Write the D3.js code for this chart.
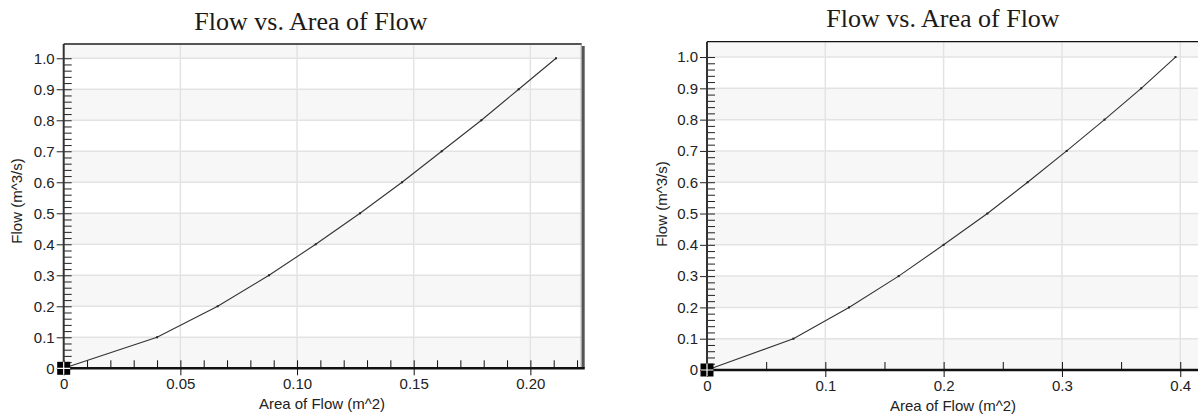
<!DOCTYPE html>
<meta charset="utf-8">
<style>
body { margin: 0; background: #fff; }
svg { display: block; }
.tick text { font-family: "Liberation Sans", Arial, sans-serif; font-size: 15px; fill: #222; }
.title { font-family: "Liberation Serif", "Times New Roman", serif; font-size: 26px; fill: #1c1a18; }
.axlabel { font-family: "Liberation Sans", Arial, sans-serif; font-size: 15px; fill: #222; }
.grid line { stroke: #e3e3e3; stroke-width: 1.5px; }
.curve { fill: none; stroke: #333; stroke-width: 1.1px; }
</style>
<svg width="1198" height="414"></svg>
<script src="https://cdnjs.cloudflare.com/ajax/libs/d3/7.8.5/d3.min.js"></script>
<script>

// flow values (m^3/s) at each marked point
var flow = [0, 0.1, 0.2, 0.3, 0.4, 0.5, 0.6, 0.7, 0.8, 0.9, 1.0];
// area of flow (m^2), first chart
var areaLeft = [0, 0.040, 0.066, 0.088, 0.108, 0.127, 0.145, 0.162, 0.179, 0.195, 0.211];
// area of flow (m^2), second chart
var areaRight = [0, 0.073, 0.120, 0.162, 0.200, 0.237, 0.271, 0.304, 0.336, 0.367, 0.396];

var yTicks = [0, 0.1, 0.2, 0.3, 0.4, 0.5, 0.6, 0.7, 0.8, 0.9, 1.0];
var xTicksLeft = [0, 0.05, 0.10, 0.15, 0.20];
var xTicksRight = [0, 0.1, 0.2, 0.3, 0.4];

var svg = d3.select("svg");

function drawChart(c) {
  var x = d3.scaleLinear().domain([0, c.xMax]).range([c.left, c.right]);
  var y = d3.scaleLinear().domain([0, c.yMax]).range([c.bottom, c.top]);
  var g = svg.append("g");

  // alternating bands
  var edges = yTicks.concat([c.yMax]);
  g.selectAll("rect.band")
    .data(d3.range(0, edges.length - 1).filter(function(i) { return i % 2 == 0; }))
    .enter().append("rect")
    .attr("class", "band")
    .attr("x", c.left)
    .attr("width", c.right - c.left)
    .attr("y", function(i) { return y(edges[i + 1]); })
    .attr("height", function(i) { return y(edges[i]) - y(edges[i + 1]); })
    .attr("fill", "#f7f7f7");

  // grid
  var grid = g.append("g").attr("class", "grid");
  grid.selectAll("line.h").data(yTicks.slice(1)).enter().append("line")
    .attr("x1", c.left).attr("x2", c.right)
    .attr("y1", function(d) { return y(d); }).attr("y2", function(d) { return y(d); });
  grid.selectAll("line.v").data(c.xTicks.slice(1)).enter().append("line")
    .attr("y1", c.top).attr("y2", c.bottom)
    .attr("x1", function(d) { return x(d); }).attr("x2", function(d) { return x(d); });

  // top / right border
  g.append("line")
    .attr("x1", c.left).attr("x2", c.right)
    .attr("y1", c.top).attr("y2", c.top)
    .attr("stroke", c.topColor).attr("stroke-width", c.topWidth);
  if (c.rightBorder) {
    g.append("line")
      .attr("x1", c.right + 1.5).attr("x2", c.right + 1.5)
      .attr("y1", c.top + 2).attr("y2", c.bottom)
      .attr("stroke", "#555").attr("stroke-width", 3);
    g.append("line")
      .attr("x1", c.right - 0.5).attr("x2", c.right - 0.5)
      .attr("y1", c.top).attr("y2", c.bottom)
      .attr("stroke", "#999").attr("stroke-width", 1);
  }

  // minor ticks (inside)
  var yMinor = d3.axisRight(y).tickValues(d3.range(0, 1.0001, 0.02)).tickSize(8).tickFormat("");
  g.append("g").attr("transform", "translate(" + c.left + ",0)").call(yMinor)
    .call(function(s) { s.select(".domain").remove(); s.selectAll("line").attr("stroke", "#222"); });
  var xMinor = d3.axisTop(x).tickValues(d3.range(0, c.xMax, c.xMinorStep)).tickSize(8).tickFormat("");
  g.append("g").attr("transform", "translate(0," + c.bottom + ")").call(xMinor)
    .call(function(s) { s.select(".domain").remove(); s.selectAll("line").attr("stroke", "#111"); });

  // major axes
  var yAxis = d3.axisLeft(y).tickValues(yTicks).tickSize(7).tickPadding(2)
    .tickFormat(function(d) { return d == 0 ? "0" : d3.format(".1f")(d); });
  g.append("g").attr("transform", "translate(" + c.left + ",0)").call(yAxis)
    .call(function(s) { s.select(".domain").remove(); s.selectAll("line").attr("stroke", "#222"); });
  var xAxis = d3.axisBottom(x).tickValues(c.xTicks).tickSize(7).tickPadding(3)
    .tickFormat(function(d) { return d == 0 ? "0" : d3.format(c.xFormat)(d); });
  g.append("g").attr("transform", "translate(0," + c.bottom + ")").call(xAxis)
    .call(function(s) { s.select(".domain").remove(); s.selectAll("line").attr("stroke", "#111"); });

  g.append("line")
    .attr("x1", c.left).attr("x2", c.left)
    .attr("y1", c.top).attr("y2", c.bottom)
    .attr("stroke", "#333").attr("stroke-width", 2);
  g.append("line")
    .attr("x1", c.left).attr("x2", c.right + 3)
    .attr("y1", c.bottom).attr("y2", c.bottom)
    .attr("stroke", "#111").attr("stroke-width", 2.5);

  // curve
  var pts = flow.map(function(f, i) { return [c.area[i], f]; });
  g.append("path").datum(pts).attr("class", "curve")
    .attr("d", d3.line().x(function(d) { return x(d[0]); }).y(function(d) { return y(d[1]); }));
  g.selectAll("rect.pt").data(pts.slice(1)).enter().append("rect")
    .attr("x", function(d) { return x(d[0]) - 1; })
    .attr("y", function(d) { return y(d[1]) - 1; })
    .attr("width", 2).attr("height", 2).attr("fill", "#222");

  // origin marker
  g.append("rect")
    .attr("x", x(0) - 6.5).attr("y", y(0) - 6.5)
    .attr("width", 13).attr("height", 13).attr("fill", "#000");
  g.append("path")
    .attr("d", "M" + (x(0) - 6.5) + "," + y(0) + "h13M" + x(0) + "," + (y(0) - 6.5) + "v13")
    .attr("stroke", "#fff").attr("stroke-width", 1.2);

  // titles
  svg.append("text").attr("class", "title")
    .attr("x", c.titleX).attr("y", c.titleY)
    .attr("text-anchor", "middle").text("Flow vs. Area of Flow");
  svg.append("text").attr("class", "axlabel")
    .attr("x", c.xLabelX).attr("y", c.xLabelY)
    .attr("text-anchor", "middle").text("Area of Flow (m^2)");
  svg.append("text").attr("class", "axlabel")
    .attr("transform", "translate(" + c.yLabelX + "," + c.yLabelY + ") rotate(-90)")
    .attr("text-anchor", "middle").text("Flow (m^3/s)");
}

drawChart({
  area: areaLeft, xTicks: xTicksLeft, xFormat: ".2f", xMinorStep: 0.01,
  xMax: 0.222, yMax: 1.046,
  left: 63.7, right: 581.7, top: 44, bottom: 368.3,
  topColor: "#555", topWidth: 2, rightBorder: true,
  titleX: 311, titleY: 30, xLabelX: 322, xLabelY: 409, yLabelX: 22, yLabelY: 201
});

drawChart({
  area: areaRight, xTicks: xTicksRight, xFormat: ".1f", xMinorStep: 0.05,
  xMax: 0.415, yMax: 1.049,
  left: 707, right: 1198, top: 41.7, bottom: 370,
  topColor: "#111", topWidth: 1.2, rightBorder: false,
  titleX: 943, titleY: 27, xLabelX: 953, xLabelY: 411, yLabelX: 667, yLabelY: 204
});

</script>
